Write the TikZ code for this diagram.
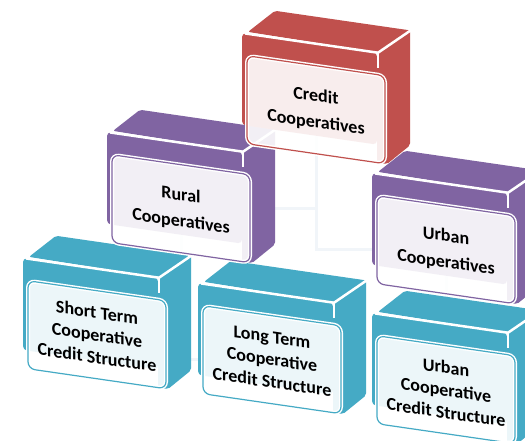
\documentclass[tikz,border=0pt]{standalone}
\usepackage{fontspec}
\setmainfont{Carlito}
\usetikzlibrary{backgrounds}
\definecolor{cred}{HTML}{C0504D}
\definecolor{cpurple}{HTML}{8064A2}
\definecolor{cteal}{HTML}{45AAC5}
\definecolor{connc}{HTML}{F1F5F9}
\tikzset{
  card/.style={draw=#1, line width=1.2pt, fill=white, fill opacity=0.9, text opacity=1,
    rounded corners=7pt, minimum width=138pt, minimum height=88pt, inner sep=0pt,
    align=center, text=black, font=\fontsize{18}{22.5}\selectfont\bfseries, transform shape},
  edgeline/.style={white, line width=2.5pt},
  conn/.style={connc, line width=3pt},
}
\newcommand\cubebox[5]{%
\begin{scope}[shift={(#2,#3)}, yslant=-0.145]
  \fill[#4, rounded corners=4pt] (0,0) rectangle (135,92);
  \fill[#4, rounded corners=2pt] (135,0) -- (168,-27) -- (168,88) -- (145,110) -- (135,110) -- cycle;
  \fill[#4, rounded corners=2pt] (6,-2) -- (33,-27) -- (168,-27) -- (135,0) -- cycle;
  \draw[edgeline] (3,0) -- (136,0) -- (168,-26.5);
  \draw[edgeline] (136,0) -- (136,15);
  \draw[white, line width=4pt, rounded corners=7pt] (5,22) rectangle (143,110);
  \node[card=#4] (#1) at (74,66) {#5};
\end{scope}}
\begin{document}
\begin{tikzpicture}[x=1pt, y=-1pt]
\useasboundingbox (0,0) rectangle (525,440);
\clip (0,0) rectangle (525,440);
\cubebox{short}{23}{258}{cteal}{Short Term\\Cooperative\\Credit Structure}
\cubebox{long}{198}{283}{cteal}{Long Term\\Cooperative\\Credit Structure}
\cubebox{uccs}{372}{313}{cteal}{Urban\\Cooperative\\Credit Structure}
\cubebox{rural}{107}{132}{cpurple}{Rural\\[4pt]Cooperatives}
\cubebox{urban}{372}{173}{cpurple}{Urban\\[4pt]Cooperatives}
\cubebox{credit}{242}{33}{cred}{Credit\\[4pt]Cooperatives}
\begin{pgfonlayer}{background}
  \fill[white] (0,0) rectangle (525,440);
  \draw[conn] (rural.center) -| (credit.center);
  \draw[conn] (credit.center) |- (urban.center);
  \draw[conn] (short.center) -| (rural.center);
  \draw[conn] (rural.center) |- (long.center);
  \draw[conn] (urban.center) -- (uccs.center);
\end{pgfonlayer}
\end{tikzpicture}
\end{document}
